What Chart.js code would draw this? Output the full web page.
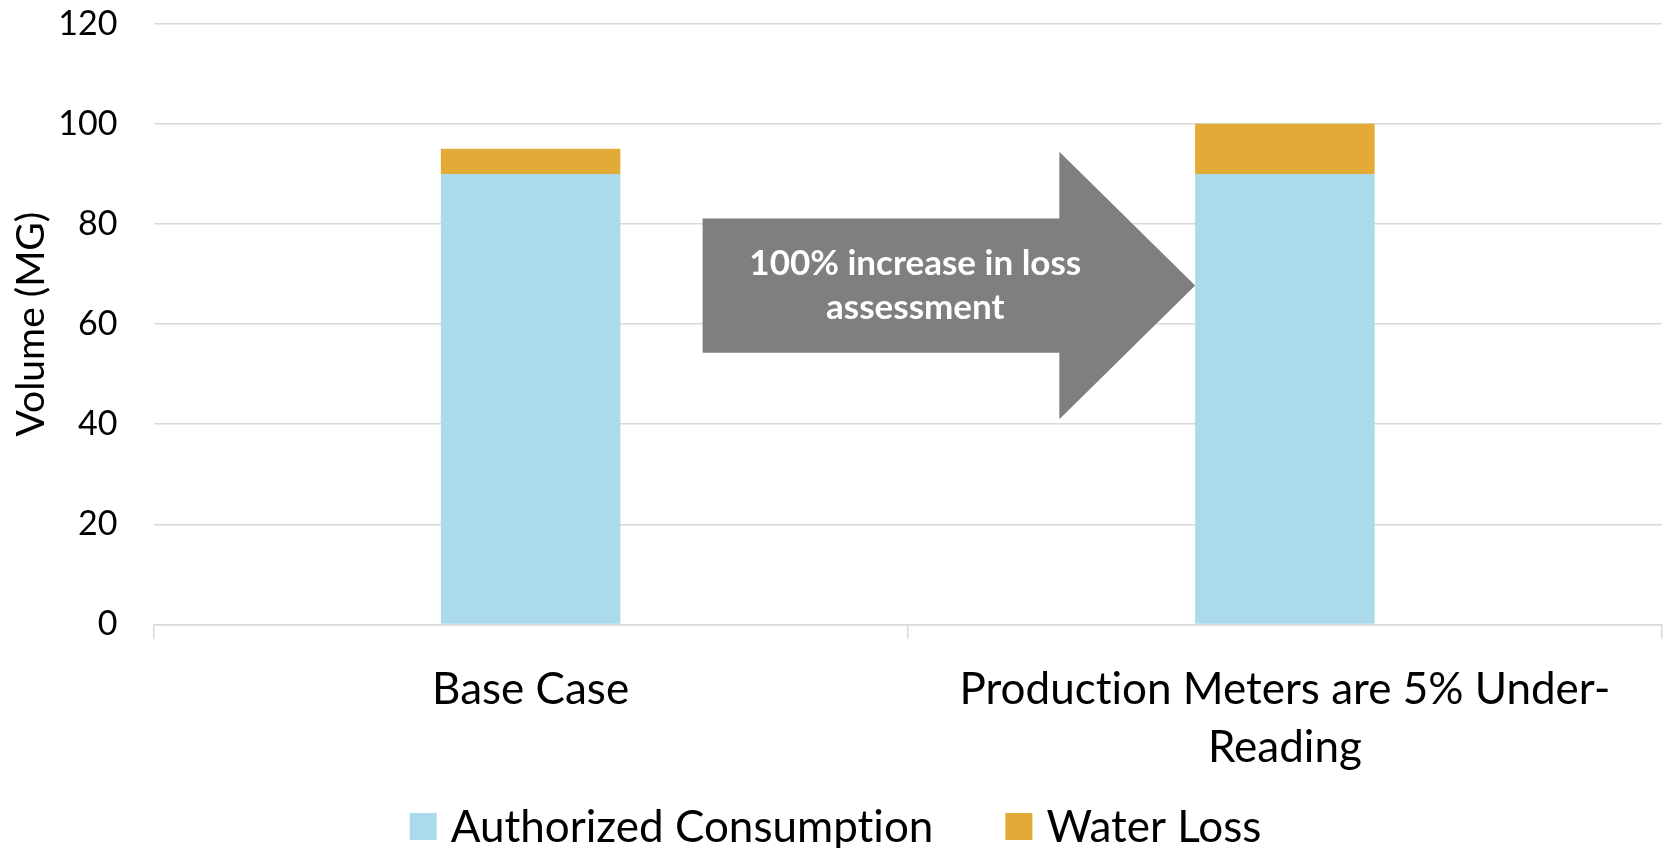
<!DOCTYPE html>
<html>
<head>
<meta charset="utf-8">
<title>Volume (MG)</title>
<script src="https://cdn.jsdelivr.net/npm/chart.js@4"></script>
<style>
  html, body { margin: 0; padding: 0; background: #ffffff; }
  #wrap { width: 1665px; height: 848px; position: relative; }
</style>
</head>
<body>
<div id="wrap"><canvas id="chart"></canvas></div>
<script>
// Scenario categories (second label wraps onto two lines)
const categories = ['Base Case', ['Production Meters are 5% Under-', 'Reading']];
// Stacked volumes, million gallons
const authorizedConsumption = [90, 90];
const waterLoss = [5, 10];
// Series names
const seriesNames = ['Authorized Consumption', 'Water Loss'];
// Y axis range and step
const yMin = 0;
const yMax = 120;
const yStep = 20;
// Callout text
const calloutLines = ['100% increase in loss', 'assessment'];

const FONT = 'Lato, "Open Sans", "DejaVu Sans", sans-serif';
const BLUE = '#ABDAEA';
const ORANGE = '#E3AA38';
const GRID = '#D9D9D9';

// Plain glyphs, no ligatures
const plainText = {
  id: 'plainText',
  beforeDraw(chart) {
    if ('textRendering' in chart.ctx) chart.ctx.textRendering = 'optimizeSpeed';
  }
};

// Right-pointing block arrow, positioned in category / value units
const calloutArrow = {
  id: 'calloutArrow',
  beforeDatasetsDraw(chart) {
    const x = chart.scales.x, y = chart.scales.y, ctx = chart.ctx;
    const xl = x.getPixelForValue(0.228), xn = x.getPixelForValue(0.701), xt = x.getPixelForValue(0.881);
    const bt = y.getPixelForValue(81.1), bb = y.getPixelForValue(54.3);
    const ht = y.getPixelForValue(94.4), hb = y.getPixelForValue(41.0), tip = y.getPixelForValue(67.7);
    ctx.save();
    ctx.fillStyle = '#7F7F7F';
    ctx.beginPath();
    ctx.moveTo(xl, bt);
    ctx.lineTo(xn, bt);
    ctx.lineTo(xn, ht);
    ctx.lineTo(xt, tip);
    ctx.lineTo(xn, hb);
    ctx.lineTo(xn, bb);
    ctx.lineTo(xl, bb);
    ctx.closePath();
    ctx.fill();
    ctx.fillStyle = '#FFFFFF';
    ctx.font = 'bold 35px ' + FONT;
    ctx.textAlign = 'center';
    ctx.textBaseline = 'middle';
    const cx = x.getPixelForValue(0.51);
    const lh = 44;
    calloutLines.forEach((line, i) => {
      ctx.fillText(line, cx, tip + (i - (calloutLines.length - 1) / 2) * lh);
    });
    ctx.restore();
  }
};

// Legend row centred under the chart
const bottomLegend = {
  id: 'bottomLegend',
  afterDraw(chart) {
    const ctx = chart.ctx;
    const box = 27, gap = 14, itemGap = 72, cy = 826.5;
    ctx.save();
    ctx.font = '44px ' + FONT;
    ctx.textBaseline = 'middle';
    ctx.textAlign = 'left';
    const items = chart.data.datasets.map(ds => ({
      text: ds.label, color: ds.backgroundColor, w: ctx.measureText(ds.label).width
    }));
    let total = 0;
    items.forEach((it, i) => { total += box + gap + it.w + (i ? itemGap : 0); });
    let xPos = chart.width / 2 - total / 2 + 3;
    items.forEach(it => {
      ctx.fillStyle = it.color;
      ctx.fillRect(xPos, cy - box / 2, box, box);
      ctx.fillStyle = '#000000';
      ctx.fillText(it.text, xPos + box + gap, cy + 1);
      xPos += box + gap + it.w + itemGap;
    });
    ctx.restore();
  }
};

new Chart(document.getElementById('chart'), {
  type: 'bar',
  data: {
    labels: categories,
    datasets: [
      { label: seriesNames[0], data: authorizedConsumption, backgroundColor: BLUE },
      { label: seriesNames[1], data: waterLoss, backgroundColor: ORANGE }
    ]
  },
  options: {
    responsive: true,
    maintainAspectRatio: false,
    animation: false,
    devicePixelRatio: 1,
    layout: { padding: { top: 23.7, right: 3, bottom: 0, left: 0 } },
    datasets: { bar: { categoryPercentage: 1, barPercentage: 0.238, borderWidth: 0 } },
    plugins: { legend: { display: false }, tooltip: { enabled: false } },
    scales: {
      x: {
        stacked: true,
        afterFit(scale) {
          scale.height = 223.5;
          scale.paddingLeft = 0;
          scale.paddingRight = 0;
        },
        grid: { offset: true, drawOnChartArea: false, drawTicks: true, tickLength: 14, color: GRID, lineWidth: 1.5 },
        border: { display: true, color: GRID, width: 1.5 },
        ticks: {
          color: '#000000',
          padding: 22,
          maxRotation: 0,
          autoSkip: false,
          font: { family: FONT, size: 44, lineHeight: 1.33 }
        }
      },
      y: {
        stacked: true,
        min: yMin,
        max: yMax,
        afterFit(scale) {
          scale.width = 153.5;
          scale.paddingTop = 0;
          scale.paddingBottom = 0;
        },
        grid: { color: GRID, lineWidth: 1.5, drawTicks: false },
        border: { display: false },
        ticks: {
          stepSize: yStep,
          color: '#000000',
          padding: 36,
          font: { family: FONT, size: 34 }
        },
        title: {
          display: true,
          text: 'Volume (MG)',
          color: '#000000',
          padding: { top: 8, bottom: 0 },
          font: { family: FONT, size: 39, lineHeight: 1.2 }
        }
      }
    }
  },
  plugins: [plainText, calloutArrow, bottomLegend]
});
</script>
</body>
</html>
